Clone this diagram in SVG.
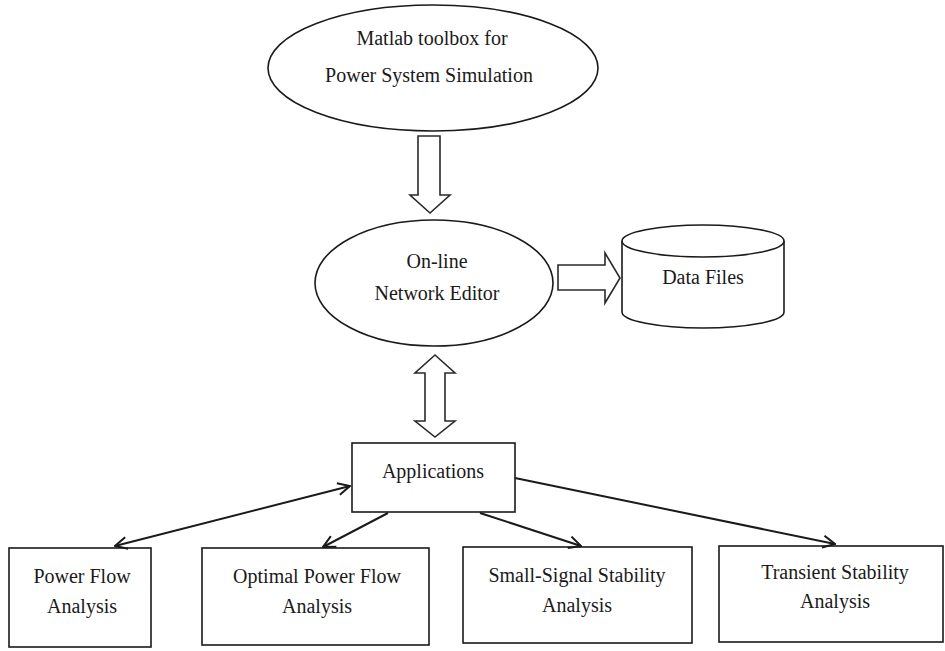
<svg xmlns="http://www.w3.org/2000/svg" width="945" height="651" viewBox="0 0 945 651">
  <style>
    .shape { fill: #ffffff; stroke: #1a1a1a; stroke-width: 1.6; }
    .block { fill: #ffffff; stroke: #2a2a2a; stroke-width: 1.6; stroke-linejoin: miter; }
    .lbl { font-family: "Liberation Serif", "Times New Roman", serif; font-size: 20px; fill: #1a1a1a; text-anchor: middle; }
    .conn { fill: none; stroke: #1a1a1a; stroke-width: 2; }
  </style>
  <defs>
    <marker id="vhead" viewBox="0 0 14 14" refX="13" refY="7" markerWidth="14" markerHeight="14" markerUnits="userSpaceOnUse" orient="auto-start-reverse">
      <path d="M1,1 L13,7 L1,13" fill="none" stroke="#1a1a1a" stroke-width="2"/>
    </marker>
  </defs>
  <rect width="945" height="651" fill="#ffffff"/>

  <g id="matlab-toolbox">
    <ellipse class="shape" cx="433" cy="68" rx="165" ry="63"/>
    <text class="lbl" x="432" y="45">Matlab toolbox for</text>
    <text class="lbl" x="429" y="82">Power System Simulation</text>
  </g>

  <g id="network-editor">
    <ellipse class="shape" cx="434" cy="283" rx="119" ry="63"/>
    <text class="lbl" x="437" y="268">On-line</text>
    <text class="lbl" x="437" y="300">Network Editor</text>
  </g>

  <g id="data-files">
    <path class="shape" d="M622,241 A81,16 0 0 1 784,241 L784,312 A81,16 0 0 1 622,312 Z"/>
    <path class="shape" fill="none" d="M622,241 A81,16 0 0 0 784,241"/>
    <text class="lbl" x="703" y="284">Data Files</text>
  </g>

  <g id="applications">
    <rect class="shape" x="352" y="443" width="163" height="69"/>
    <text class="lbl" x="433" y="478">Applications</text>
  </g>

  <g id="power-flow">
    <rect class="shape" x="9" y="548" width="142" height="99"/>
    <text class="lbl" x="82" y="583">Power Flow</text>
    <text class="lbl" x="82" y="613">Analysis</text>
  </g>

  <g id="optimal-power-flow">
    <rect class="shape" x="202" y="548" width="227" height="97"/>
    <text class="lbl" x="317" y="583">Optimal Power Flow</text>
    <text class="lbl" x="317" y="613">Analysis</text>
  </g>

  <g id="small-signal">
    <rect class="shape" x="463" y="547" width="229" height="96"/>
    <text class="lbl" x="577" y="582">Small-Signal Stability</text>
    <text class="lbl" x="577" y="612">Analysis</text>
  </g>

  <g id="transient-stability">
    <rect class="shape" x="719" y="546" width="224" height="96"/>
    <text class="lbl" x="835" y="579">Transient Stability</text>
    <text class="lbl" x="835" y="608">Analysis</text>
  </g>

  <g id="connectors">
    <polygon class="block" points="418,136 440,136 440,195 450,195 430,213 410,195 418,195"/>
    <polygon class="block" points="558,265 605,265 605,253 620,278 605,303 605,290 558,290"/>
    <polygon class="block" points="435,355 455,373 445,373 445,421 455,421 435,437 415,421 425,421 425,373 415,373"/>
    <line class="conn" x1="115" y1="546" x2="350" y2="486" marker-start="url(#vhead)" marker-end="url(#vhead)"/>
    <line class="conn" x1="388" y1="513" x2="323" y2="547" marker-end="url(#vhead)"/>
    <line class="conn" x1="480" y1="513" x2="581" y2="546" marker-end="url(#vhead)"/>
    <line class="conn" x1="515" y1="478" x2="835" y2="544" marker-end="url(#vhead)"/>
  </g>
</svg>
